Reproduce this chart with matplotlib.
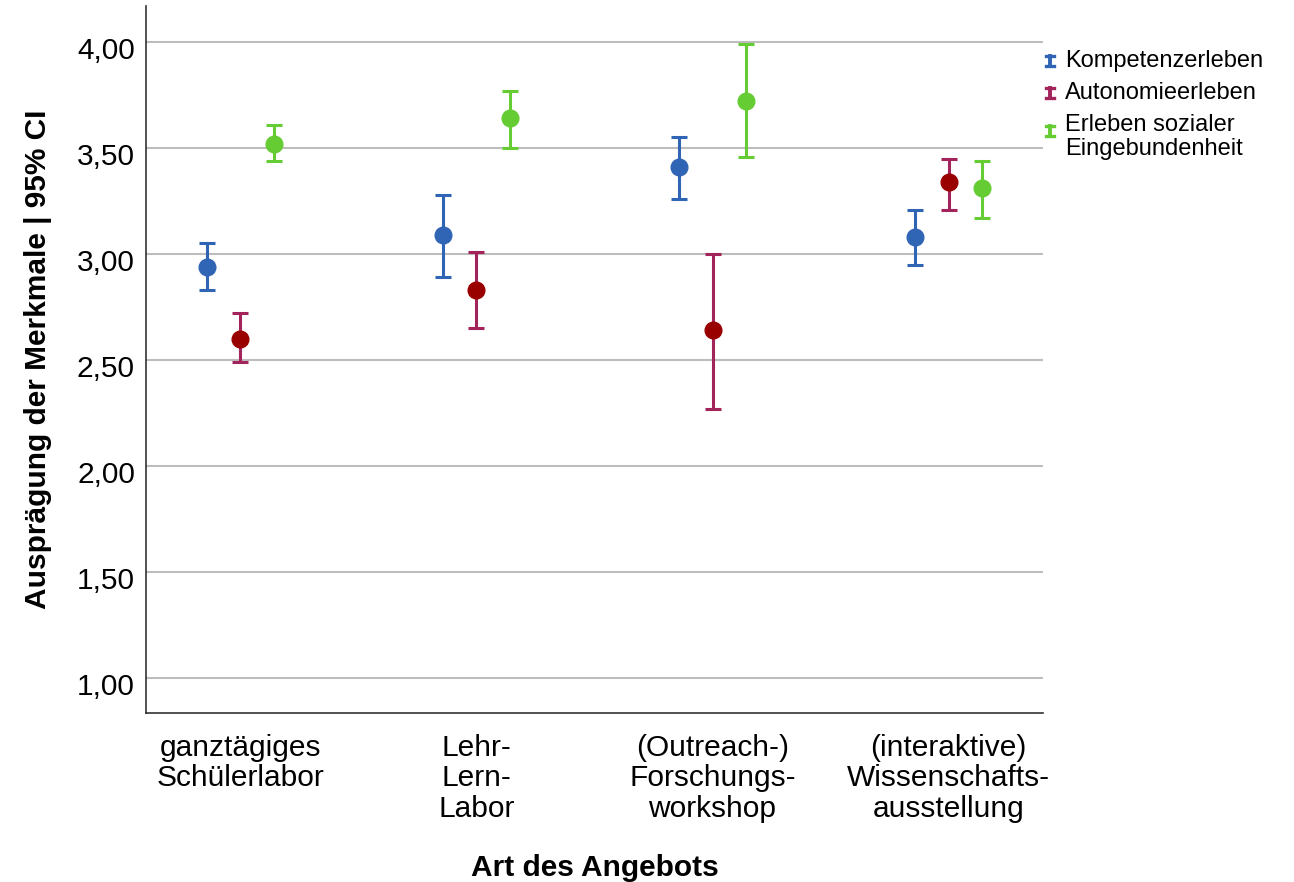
import numpy as np
import matplotlib.pyplot as plt
from matplotlib.lines import Line2D
from matplotlib.transforms import ScaledTranslation

plt.rcParams['font.family'] = ['Liberation Sans', 'DejaVu Sans']

categories = ["ganztägiges\nSchülerlabor", "Lehr-\nLern-\nLabor",
              "(Outreach-)\nForschungs-\nworkshop", "(interaktive)\nWissenschafts-\nausstellung"]
series = ["Kompetenzerleben", "Autonomieerleben", "Erleben sozialer\nEingebundenheit"]

kompetenz_mean = [2.94, 3.09, 3.41, 3.08]
kompetenz_lo = [2.83, 2.89, 3.26, 2.95]
kompetenz_hi = [3.05, 3.28, 3.55, 3.21]

autonomie_mean = [2.60, 2.83, 2.64, 3.34]
autonomie_lo = [2.49, 2.65, 2.27, 3.21]
autonomie_hi = [2.72, 3.01, 3.00, 3.45]

sozial_mean = [3.52, 3.64, 3.72, 3.31]
sozial_lo = [3.44, 3.50, 3.46, 3.17]
sozial_hi = [3.61, 3.77, 3.99, 3.44]

means = [kompetenz_mean, autonomie_mean, sozial_mean]
lows = [kompetenz_lo, autonomie_lo, sozial_lo]
highs = [kompetenz_hi, autonomie_hi, sozial_hi]
bar_colors = ['#3065b5', '#a3245a', '#66cc33']
dot_colors = ['#3065b5', '#990000', '#66cc33']
offsets = [-0.142, 0.0, 0.142]

W, H = 1294, 882
fig = plt.figure(figsize=(W / 100, H / 100), dpi=100)
ax = fig.add_axes([146 / W, 1 - 713 / H, (1043 - 146) / W, (713 - 6) / H])

x = np.arange(len(categories))
for m, lo, hi, bc, dc, off in zip(means, lows, highs, bar_colors, dot_colors, offsets):
    m = np.array(m)
    yerr = [m - np.array(lo), np.array(hi) - m]
    ax.errorbar(x + off, m, yerr=yerr, fmt='none', ecolor=bc, elinewidth=2.2,
                capsize=6, capthick=2.2, zorder=3)
    ax.plot(x + off, m, 'o', color=dc, markersize=12, zorder=4)

ax.set_xlim(-0.4, 3.4)
ax.set_ylim(0.835, 4.17)
ax.set_yticks([1.0, 1.5, 2.0, 2.5, 3.0, 3.5, 4.0])
ax.set_yticklabels([f"{v:.2f}".replace('.', ',') for v in ax.get_yticks()], fontsize=21.5)
ax.set_xticks(x)
ax.set_xticklabels(categories, fontsize=21.5, linespacing=1.12)
ax.tick_params(axis='y', length=0, pad=8)
ax.tick_params(axis='x', length=0, pad=15)
shift = ScaledTranslation(0, -6 / 100, fig.dpi_scale_trans)
for lab in ax.get_yticklabels():
    lab.set_transform(lab.get_transform() + shift)

ax.grid(axis='y', color='#bdbdbd', linewidth=1.5)
ax.set_axisbelow(True)
for s in ['top', 'right']:
    ax.spines[s].set_visible(False)
for s in ['left', 'bottom']:
    ax.spines[s].set_color('#333333')
    ax.spines[s].set_linewidth(1.2)

ax.set_ylabel("Ausprägung der Merkmale | 95% CI", fontsize=21.5, fontweight='bold')
ax.yaxis.set_label_coords(-0.105, 0.5)
ax.set_xlabel("Art des Angebots", fontsize=21.5, fontweight='bold')
ax.xaxis.set_label_coords(0.5, -0.2)

# legend drawn by hand (error bar icons + text), pixel positions
def fx(px):
    return px / W

def fy(py):
    return 1 - py / H

icon_y = [61, 93, 131]
text_y = [61, 93, 126]
for c, label, iy, ty in zip(bar_colors, series, icon_y, text_y):
    fig.add_artist(Line2D([fx(1050), fx(1050)], [fy(iy - 5), fy(iy + 5)], color=c, lw=2.8))
    for cy in (iy - 5, iy + 5):
        fig.add_artist(Line2D([fx(1046), fx(1054)], [fy(cy), fy(cy)], color=c, lw=2.4))
    if '\n' in label:
        fig.text(fx(1065), fy(ty - 12), label, fontsize=17, va='top', ha='left',
                 linespacing=1.1)
    else:
        fig.text(fx(1065), fy(ty), label, fontsize=17, va='center', ha='left')

fig.savefig('out.png', dpi=100)
